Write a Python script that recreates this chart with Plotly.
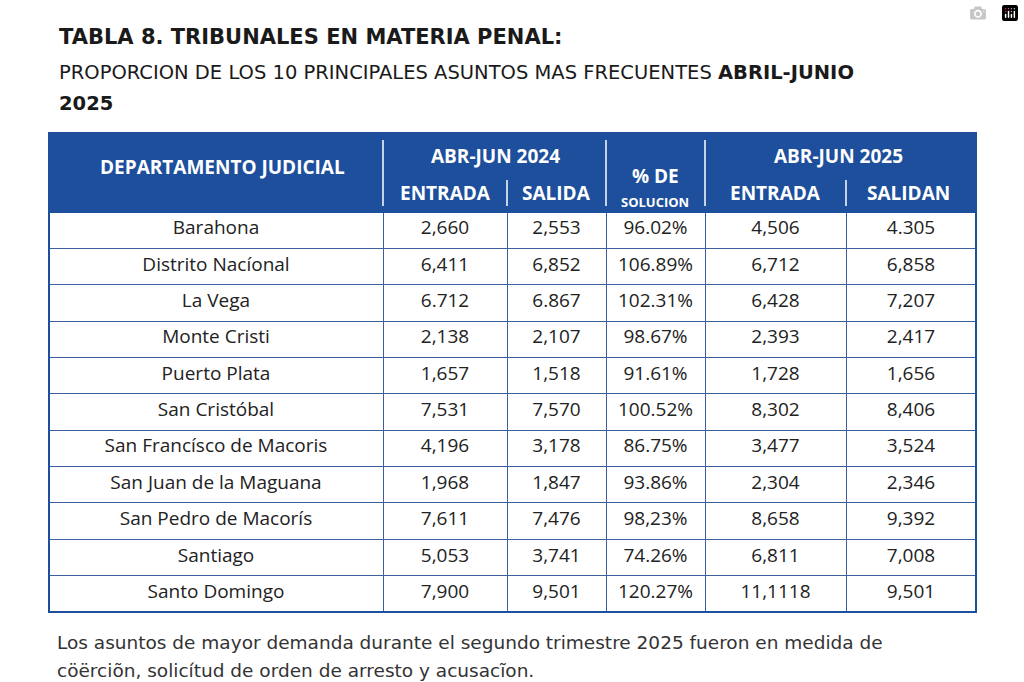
import plotly.graph_objects as go

departamentos = ["Barahona", "Distrito Nacíonal", "La Vega", "Monte Cristi", "Puerto Plata",
                 "San Cristóbal", "San Francísco de Macoris", "San Juan de la Maguana",
                 "San Pedro de Macorís", "Santiago", "Santo Domingo"]
entrada_2024 = ["2,660", "6,411", "6.712", "2,138", "1,657", "7,531", "4,196", "1,968", "7,611", "5,053", "7,900"]
salida_2024 = ["2,553", "6,852", "6.867", "2,107", "1,518", "7,570", "3,178", "1,847", "7,476", "3,741", "9,501"]
pct_solucion = ["96.02%", "106.89%", "102.31%", "98.67%", "91.61%", "100.52%", "86.75%", "93.86%", "98,23%", "74.26%", "120.27%"]
entrada_2025 = ["4,506", "6,712", "6,428", "2,393", "1,728", "8,302", "3,477", "2,304", "8,658", "6,811", "11,1118"]
salida_2025 = ["4.305", "6,858", "7,207", "2,417", "1,656", "8,406", "3,524", "2,346", "9,392", "7,008", "9,501"]

W, H = 1024, 682
BLUE = "#1d4f9c"
col_edges = [49, 383, 507, 606, 705, 846, 976]
top, head_bot, bottom = 133, 212, 612

def px(x): return x / W
def py(y): return 1 - y / H

fig = go.Figure(go.Table(
    domain=dict(x=[px(col_edges[0]), px(col_edges[-1])], y=[py(bottom), py(top)]),
    columnwidth=[col_edges[i + 1] - col_edges[i] for i in range(6)],
    header=dict(values=[""] * 6, height=head_bot - top, fill_color=BLUE, line_color=BLUE),
    cells=dict(values=[departamentos, entrada_2024, salida_2024, pct_solucion, entrada_2025, salida_2025],
               height=(bottom - head_bot) / 11, align="center", fill_color="white",
               line=dict(color="#3a5f9e", width=1),
               font=dict(family="Open Sans", size=19, color="#222222")),
))

shapes = [dict(type="rect", xref="paper", yref="paper", x0=px(49), x1=px(976), y0=py(bottom), y1=py(top),
               line=dict(color=BLUE, width=2))]
for x0, y0, y1 in [(383, 140, 206), (507, 180, 206), (606, 140, 206), (705, 140, 206), (846, 180, 206)]:
    shapes.append(dict(type="line", xref="paper", yref="paper", x0=px(x0), x1=px(x0), y0=py(y0), y1=py(y1),
                       line=dict(color="white", width=1.5)))

anns = []
def txt(x, y, s, size=18, color="white", bold=True, xanchor="center", family="Open Sans"):
    anns.append(dict(x=px(x), y=py(y), xref="paper", yref="paper", text=f"<b>{s}</b>" if bold else s,
                     showarrow=False, xanchor=xanchor, yanchor="middle",
                     font=dict(family=family, size=size, color=color)))

txt(222, 167, "DEPARTAMENTO JUDICIAL", size=19)
txt(495, 156, "ABR-JUN 2024", size=19)
txt(445, 193, "ENTRADA", size=19)
txt(556, 193, "SALIDA", size=19)
txt(655, 176, "% DE", size=19)
txt(655, 202, "SOLUCION", size=13)
txt(838, 156, "ABR-JUN 2025", size=19)
txt(775, 193, "ENTRADA", size=19)
txt(908, 193, "SALIDAN", size=19)
txt(57, 37, "TABLA 8. TRIBUNALES EN MATERIA PENAL:", size=21, color="#1a1a1a", xanchor="left", family="DejaVu Sans")
txt(57, 72, "PROPORCION DE LOS 10 PRINCIPALES ASUNTOS MAS FRECUENTES <b>ABRIL-JUNIO</b>",
    size=19.5, color="#1a1a1a", bold=False, xanchor="left", family="DejaVu Sans")
txt(57, 104, "2025", size=19.5, color="#1a1a1a", xanchor="left", family="DejaVu Sans")
txt(55, 642, "Los asuntos de mayor demanda durante el segundo trimestre 2025 fueron en medida de",
    size=18.5, color="#333333", bold=False, xanchor="left", family="DejaVu Sans")
txt(55, 670, "cöërciõn, solicítud de orden de arresto y acusacĩon.",
    size=18.5, color="#333333", bold=False, xanchor="left", family="DejaVu Sans")

fig.update_layout(width=W, height=H, margin=dict(l=0, r=0, t=0, b=0),
                  paper_bgcolor="white", shapes=shapes, annotations=anns)
fig.write_html("out.html")

# drop the default page margin so the figure sits at the window corner
with open("out.html", encoding="utf-8") as f:
    page = f.read()
page = page.replace("<head>", "<head><style>body{margin:0;overflow:hidden}</style>", 1)
with open("out.html", "w", encoding="utf-8") as f:
    f.write(page)
